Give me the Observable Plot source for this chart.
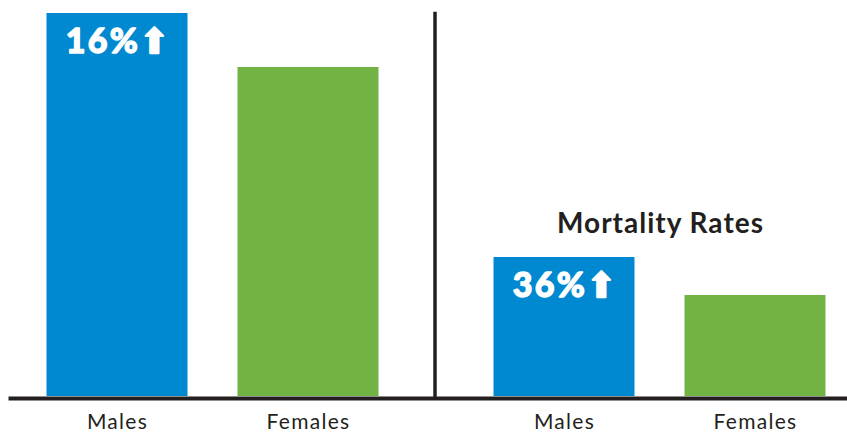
<!DOCTYPE html>
<html>
<head>
<meta charset="utf-8">
<script src="https://cdn.jsdelivr.net/npm/d3@7"></script>
<script src="https://cdn.jsdelivr.net/npm/@observablehq/plot@0.6"></script>
<style>
  html, body { margin: 0; padding: 0; background: #fff; }
  #chart svg { display: block; font-family: Lato, "Open Sans", sans-serif; letter-spacing: 1.3px; }
  #chart svg g[font-size="34"] { letter-spacing: 2.2px; }
  #chart svg g[font-size="28"] { letter-spacing: 1px; }
</style>
</head>
<body>
<div id="chart"></div>
<script>
// Data
const groups = ["Incidence", "Mortality"];
const sexes = ["Males", "Females"];
const incidenceValues = [38.3, 32.9];
const mortalityValues = [13.9, 10.1];
const changeLabels = ["16%⬆", "36%⬆"];   // label on the Males bar of each group
const groupTitles = ["", "Mortality Rates"];
const sexColors = ["#0089D0", "#72B443"];

const rows = [];
groups.forEach((g, gi) => {
  const vals = gi === 0 ? incidenceValues : mortalityValues;
  sexes.forEach((s, si) => rows.push({group: g, sex: s, value: vals[si]}));
});
const labelRows = groups.map((g, gi) => ({
  group: g, sex: sexes[0],
  value: (gi === 0 ? incidenceValues : mortalityValues)[0],
  label: changeLabels[gi], title: groupTitles[gi]
}));
const titleRows = labelRows.filter(d => d.title);

const ink = "#231F20";

const chart = Plot.plot({
  width: 847,
  height: 432,
  marginLeft: -11.5,
  marginRight: -35.5,
  marginTop: 13,
  marginBottom: 36,
  fx: {domain: groups, padding: 0, axis: null, label: null},
  x: {domain: sexes, paddingInner: 0.2618, paddingOuter: 0.301, label: null,
      tickSize: 0, tickPadding: 17.5},
  y: {domain: [0, 38.3], axis: null},
  color: {domain: sexes, range: sexColors},
  style: {fontFamily: "Lato, 'Open Sans', sans-serif", fontSize: "21px", color: ink},
  marks: [
    Plot.barY(rows, {fx: "group", x: "sex", y: "value", fill: "sex"}),
    // divider between the two groups (left edge of each facet; the first is off-canvas)
    Plot.frame({anchor: "left", stroke: ink, strokeWidth: 3.5, strokeOpacity: 1, dx: -1.5}),
    // baseline
    Plot.ruleY([{group: groups[0]}], {fx: "group", y: () => 0, insetLeft: 19.5, stroke: ink, strokeWidth: 4, dy: 2}),
    Plot.ruleY([{group: groups[1]}], {fx: "group", y: () => 0, stroke: ink, strokeWidth: 4, dy: 2}),
    // change labels inside the Males bars
    Plot.text(labelRows, {fx: "group", x: "sex", y: "value", text: "label",
      lineAnchor: "top", dy: 15, dx: 0.5, fill: "white", stroke: "white", strokeWidth: 1.3,
      fontSize: 34, fontWeight: 900}),
    // group title
    Plot.text(titleRows, {fx: "group", y: "value", text: "title",
      dy: -33, dx: 0.5, fill: ink, fontSize: 28, fontWeight: 700})
  ]
});
document.getElementById("chart").appendChild(chart);
</script>
</body>
</html>
